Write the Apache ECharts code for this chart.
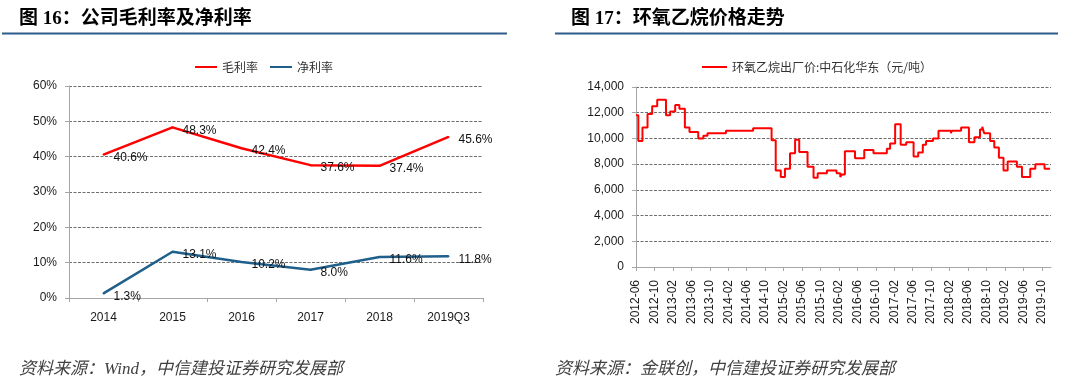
<!DOCTYPE html>
<html>
<head>
<meta charset="utf-8">
<script src="https://cdn.jsdelivr.net/npm/echarts@6/dist/echarts.min.js"></script>
<style>
html,body{margin:0;padding:0;background:#fff;}
#main{width:1080px;height:381px;}
</style>
</head>
<body>
<div id="main"></div>
<script>
// ---- Figure 16 data ----
const marginCategories = ['2014', '2015', '2016', '2017', '2018', '2019Q3'];
const grossMargin = [40.6, 48.3, 42.4, 37.6, 37.4, 45.6];
const netMargin = [1.3, 13.1, 10.2, 8.0, 11.6, 11.8];

// ---- Figure 17 data (step changes of EO price, yuan/ton) ----
const priceDates = [
  '2012-06-01','2012-06-16','2012-07-13','2012-08-16','2012-09-16','2012-10-19',
  '2012-12-16','2013-01-13','2013-02-16','2013-03-13','2013-04-19','2013-05-19',
  '2013-07-16','2013-08-19','2013-09-16','2014-01-16','2014-07-13','2014-11-13',
  '2014-12-10','2015-01-13','2015-02-10','2015-03-13','2015-04-16','2015-05-13',
  '2015-07-07','2015-08-16','2015-09-13','2015-11-13','2016-01-16','2016-02-10',
  '2016-02-22','2016-03-10','2016-05-16','2016-07-16','2016-09-16','2016-12-13',
  '2017-01-04','2017-02-07','2017-03-13','2017-04-19','2017-06-07','2017-07-07',
  '2017-08-07','2017-08-28','2017-10-13','2017-11-19','2018-02-10','2018-02-16',
  '2018-04-16','2018-06-07','2018-07-13','2018-08-19','2018-09-04','2018-09-16',
  '2018-10-25','2018-11-22','2018-12-22','2019-01-22','2019-02-19','2019-04-19',
  '2019-05-22','2019-07-16','2019-08-19','2019-10-19','2019-11-25'
];
const priceValues = [
  11800, 9800, 10850, 11900, 12500, 13000,
  11800, 12100, 12600, 12300, 10850, 10500,
  10000, 10200, 10400, 10600, 10800, 9850,
  7500, 7000, 7650, 8850, 9900, 8950,
  7800, 6950, 7300, 7500, 7300, 7000,
  7200, 9000, 8450, 9100, 8850, 9200,
  9600, 11100, 9500, 9700, 8600, 8900,
  9500, 9800, 10000, 10600, 10400, 10600,
  10850, 9700, 10100, 10700, 10900, 10400,
  9800, 9300, 8500, 7500, 8200, 7800,
  7000, 7650, 8000, 7650, 7650
];
const priceAxisStart = '2012-06';
const priceAxisMonths = 90;

function monthOffset(s) {
  const p = s.split('-').map(Number);
  const [y0, m0] = priceAxisStart.split('-').map(Number);
  return (p[0] - y0) * 12 + (p[1] - m0) + ((p[2] || 1) - 1) / 30;
}
function monthLabel(v) {
  const [y0, m0] = priceAxisStart.split('-').map(Number);
  const t = y0 * 12 + (m0 - 1) + v;
  const y = Math.floor(t / 12);
  const m = t % 12 + 1;
  return y + '-' + String(m).padStart(2, '0');
}
const priceData = priceDates.map((d, i) => [monthOffset(d), priceValues[i]]);

const latin = "'Liberation Sans', Arial, sans-serif";
const cjk = "'Noto Sans CJK SC', sans-serif";
const axisGray = '#A6A6A6';
const gridDash = { color: '#6e6e6e', width: 1, type: [3, 1.5] };

const chart = echarts.init(document.getElementById('main'), null, { renderer: 'canvas' });

const labelStyle = {
  show: true, position: 'right', distance: 9, offset: [0, 3],
  fontSize: 12, color: '#111', fontFamily: latin,
  formatter: p => p.value.toFixed(1) + '%'
};

chart.setOption({
  animation: false,
  backgroundColor: '#fff',
  title: [
    { text: '图 16：公司毛利率及净利率', left: 14, top: 5,
      textStyle: { fontSize: 19, fontWeight: 'bold', color: '#000', fontFamily: "'Liberation Serif', 'Noto Sans CJK SC', serif" } },
    { text: '图 17：环氧乙烷价格走势', left: 566, top: 5,
      textStyle: { fontSize: 19, fontWeight: 'bold', color: '#000', fontFamily: "'Liberation Serif', 'Noto Sans CJK SC', serif" } },
    { text: '资料来源：Wind，中信建投证券研究发展部', left: 14, top: 356,
      textStyle: { fontSize: 17, fontStyle: 'italic', fontWeight: 'normal', color: '#404040', fontFamily: "'Liberation Serif', 'Noto Sans CJK SC', serif" } },
    { text: '资料来源：金联创，中信建投证券研究发展部', left: 550, top: 356,
      textStyle: { fontSize: 17, fontStyle: 'italic', fontWeight: 'normal', color: '#404040', fontFamily: "'Liberation Serif', 'Noto Sans CJK SC', serif" } }
  ],
  graphic: [
    { type: 'line', shape: { x1: 2, y1: 33.5, x2: 507, y2: 33.5 }, style: { stroke: '#2E5C8A', lineWidth: 2 } },
    { type: 'line', shape: { x1: 555, y1: 33.5, x2: 1058, y2: 33.5 }, style: { stroke: '#2E5C8A', lineWidth: 2 } }
  ],
  legend: [
    { data: ['毛利率', '净利率'], left: 190, top: 56, icon: 'rect', itemWidth: 22, itemHeight: 2,
      itemGap: 12, textStyle: { fontSize: 12, color: '#333', fontFamily: cjk } },
    { data: ['环氧乙烷出厂价:中石化华东（元/吨）'], left: 697, top: 56, icon: 'rect', itemWidth: 25, itemHeight: 2,
      textStyle: { fontSize: 12, color: '#333', fontFamily: cjk } }
  ],
  grid: [
    { left: 69, top: 86, width: 414, height: 212 },
    { left: 636, top: 87, width: 415, height: 180 }
  ],
  xAxis: [
    { type: 'category', gridIndex: 0, data: marginCategories, boundaryGap: true,
      axisLine: { lineStyle: { color: axisGray } },
      axisTick: { show: true, length: 4, lineStyle: { color: axisGray } },
      axisLabel: { margin: 14, fontSize: 12, color: '#1a1a1a', fontFamily: latin },
      splitLine: { show: false } },
    { type: 'value', gridIndex: 1, min: 0, max: priceAxisMonths, interval: 4,
      axisLine: { show: true, onZero: false, lineStyle: { color: axisGray } },
      axisTick: { show: true, length: 4, lineStyle: { color: axisGray } },
      axisLabel: { rotate: 90, margin: 13, fontSize: 12, color: '#1a1a1a', fontFamily: latin,
        showMaxLabel: false, formatter: v => (v % 4 === 0 ? monthLabel(v) : '') },
      splitLine: { show: false } }
  ],
  yAxis: [
    { type: 'value', gridIndex: 0, min: 0, max: 60, interval: 10,
      axisLine: { show: true, lineStyle: { color: axisGray } },
      axisTick: { show: true, length: 4, lineStyle: { color: axisGray } },
      axisLabel: { margin: 12, fontSize: 12, color: '#1a1a1a', fontFamily: latin, formatter: '{value}%' },
      splitLine: { show: true, showMinLine: false, lineStyle: gridDash } },
    { type: 'value', gridIndex: 1, min: 0, max: 14000, interval: 2000,
      axisLine: { show: true, lineStyle: { color: axisGray } },
      axisTick: { show: true, length: 4, lineStyle: { color: axisGray } },
      axisLabel: { margin: 12, fontSize: 12, color: '#1a1a1a', fontFamily: latin,
        formatter: v => v.toLocaleString('en-US') },
      splitLine: { show: true, showMinLine: false, lineStyle: gridDash } }
  ],
  series: [
    { name: '毛利率', type: 'line', xAxisIndex: 0, yAxisIndex: 0, data: grossMargin,
      color: '#FF0000', symbol: 'circle', symbolSize: 2,
      lineStyle: { color: '#FF0000', width: 2.5 }, itemStyle: { color: '#FF0000' },
      label: labelStyle },
    { name: '净利率', type: 'line', xAxisIndex: 0, yAxisIndex: 0, data: netMargin,
      color: '#1F5F8B', symbol: 'circle', symbolSize: 2,
      lineStyle: { color: '#1F5F8B', width: 2.5 }, itemStyle: { color: '#1F5F8B' },
      label: labelStyle },
    { name: '环氧乙烷出厂价:中石化华东（元/吨）', type: 'line', xAxisIndex: 1, yAxisIndex: 1,
      data: priceData, step: 'end', showSymbol: false, symbol: 'none',
      color: '#FF0000', lineStyle: { color: '#FF0000', width: 2 } }
  ]
});
</script>
</body>
</html>
